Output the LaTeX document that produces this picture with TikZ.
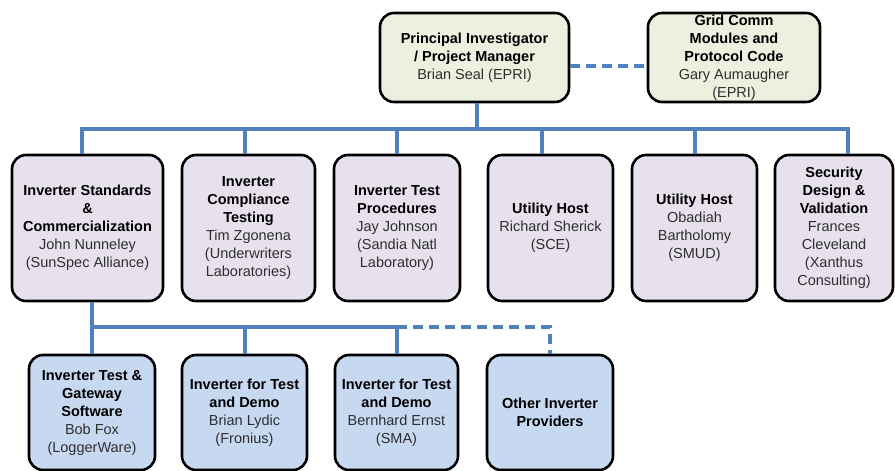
\documentclass[tikz,border=0pt]{standalone}
\usepackage{fontspec}
\setmainfont{Liberation Sans}
\usetikzlibrary{calc}
\definecolor{topfill}{HTML}{EBF1DE}
\definecolor{midfill}{HTML}{E6E1EC}
\definecolor{botfill}{HTML}{C6D9F1}
\definecolor{linkblue}{HTML}{4F81BD}
\definecolor{nametext}{HTML}{2E2E2E}
\begin{document}
\begin{tikzpicture}[x=1pt,y=-1pt,
  box/.style={draw=black, line width=2.6pt, rounded corners=14pt, align=center,
    inner sep=1pt, font=\fontsize{14.5}{18}\selectfont, text=black},
  topbox/.style={box, fill=topfill, minimum height=89pt},
  midbox/.style={box, fill=midfill, minimum height=146pt},
  botbox/.style={box, fill=botfill, minimum height=115pt},
  conn/.style={draw=linkblue, line width=4pt},
  dconn/.style={conn, dash pattern=on 10pt off 6pt},
  nm/.style={}]
\useasboundingbox (0,0) rectangle (895,471);
\newcommand{\nmx}[1]{{\color{nametext}#1}}
% top row
\node[topbox, minimum width=189pt] (pi) at (474.5,57.5)
  {\textbf{Principal Investigator}\\\textbf{/ Project Manager}\\\nmx{Brian Seal (EPRI)}};
\node[topbox, minimum width=172pt] (gc) at (734,57.5)
  {\textbf{Grid Comm}\\\textbf{Modules and}\\\textbf{Protocol Code}\\\nmx{Gary Aumaugher}\\\nmx{(EPRI)}};
% middle row
\node[midbox, minimum width=151pt] (m1) at (87.5,228)
  {\textbf{Inverter Standards}\\\textbf{\&}\\\textbf{Commercialization}\\\nmx{John Nunneley}\\\nmx{(SunSpec Alliance)}};
\node[midbox, minimum width=133pt] (m2) at (248.5,228)
  {\textbf{Inverter}\\\textbf{Compliance}\\\textbf{Testing}\\\nmx{Tim Zgonena}\\\nmx{(Underwriters}\\\nmx{Laboratories)}};
\node[midbox, minimum width=126pt] (m3) at (397,228)
  {\textbf{Inverter Test}\\\textbf{Procedures}\\\nmx{Jay Johnson}\\\nmx{(Sandia Natl}\\\nmx{Laboratory)}};
\node[midbox, minimum width=125pt] (m4) at (550.5,228)
  {\textbf{Utility Host}\\\nmx{Richard Sherick}\\\nmx{(SCE)}};
\node[midbox, minimum width=125pt] (m5) at (694.5,228)
  {\textbf{Utility Host}\\\nmx{Obadiah}\\\nmx{Bartholomy}\\\nmx{(SMUD)}};
\node[midbox, minimum width=118pt] (m6) at (834,228)
  {\textbf{Security}\\\textbf{Design \&}\\\textbf{Validation}\\\nmx{Frances}\\\nmx{Cleveland}\\\nmx{(Xanthus}\\\nmx{Consulting)}};
% bottom row
\node[botbox, minimum width=126pt] (b1) at (92,412.5)
  {\textbf{Inverter Test \&}\\\textbf{Gateway}\\\textbf{Software}\\\nmx{Bob Fox}\\\nmx{(LoggerWare)}};
\node[botbox, minimum width=125pt] (b2) at (244.5,412.5)
  {\textbf{Inverter for Test}\\\textbf{and Demo}\\\nmx{Brian Lydic}\\\nmx{(Fronius)}};
\node[botbox, minimum width=123pt] (b3) at (396.5,412.5)
  {\textbf{Inverter for Test}\\\textbf{and Demo}\\\nmx{Bernhard Ernst}\\\nmx{(SMA)}};
\node[botbox, minimum width=126pt] (b4) at (550,412.5)
  {\textbf{Other Inverter}\\\textbf{Providers}};
% connectors
\coordinate (bar) at (0,129);
\coordinate (bar2) at (0,327);
\coordinate (dpi) at ([xshift=2.5pt]pi.south);
\coordinate (d1) at ([xshift=-5.5pt]m1.north);
\coordinate (d2) at ([xshift=-3.5pt]m2.north);
\coordinate (d3) at (m3.north);
\coordinate (d4) at ([xshift=-8.5pt]m4.north);
\coordinate (d5) at (m5.north);
\coordinate (d6) at ([xshift=14pt]m6.north);
\draw[dconn] ([yshift=-8.5pt]pi.east) -- ([yshift=-8.5pt]gc.west);
\draw[conn] (dpi) -- (dpi |- bar);
\draw[conn] (d1) |- (bar -| d6) -- (d6);
\draw[conn] (d2) -- (d2 |- bar);
\draw[conn] (d3) -- (d3 |- bar);
\draw[conn] (d4) -- (d4 |- bar);
\draw[conn] (d5) -- (d5 |- bar);
\draw[dconn] (b3.north |- bar2) -| (b4.north);
\draw[conn] (b1.north |- m1.south) -- (b1.north);
\draw[conn] (b1.north |- bar2) -| (b3.north);
\draw[conn] (b2.north) -- (b2.north |- bar2);
\end{tikzpicture}
\end{document}
